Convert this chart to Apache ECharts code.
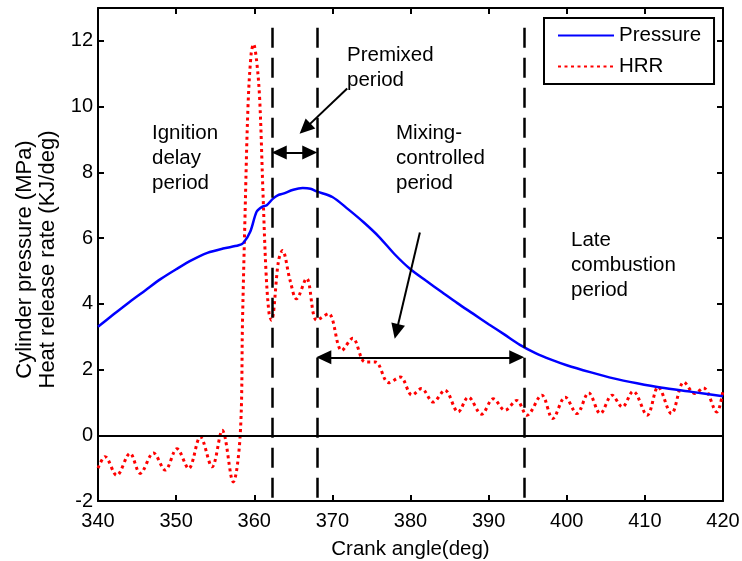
<!DOCTYPE html>
<html>
<head>
<meta charset="utf-8">
<script src="https://cdn.jsdelivr.net/npm/echarts@6/dist/echarts.min.js"></script>
<style>
  html, body { margin: 0; padding: 0; background: #fff; }
  #chart { width: 742px; height: 561px; }
</style>
</head>
<body>
<div id="chart"></div>
<script>
// crank angle axis and value axis
const xMin = 340, xMax = 420, xStep = 10;
const yMin = -2, yMax = 13, yStep = 2;

// cylinder pressure (MPa)
const pressAngle = [340, 342, 344, 346, 348, 350, 352, 354, 356, 358, 358.6, 359.5, 360.3, 361, 361.6, 362.4, 363, 363.7, 365, 366.2, 367.2, 368, 370, 372, 374, 376, 378, 380, 382, 384, 386, 388, 390, 392, 394, 396, 398, 400, 403, 406, 409, 412, 416, 420];
const pressure = [3.3, 3.68, 4.05, 4.4, 4.75, 5.05, 5.33, 5.55, 5.68, 5.78, 5.85, 6.2, 6.8, 6.95, 7.0, 7.2, 7.3, 7.35, 7.47, 7.52, 7.5, 7.42, 7.25, 6.88, 6.48, 6.03, 5.5, 5.05, 4.7, 4.36, 4.02, 3.7, 3.38, 3.07, 2.75, 2.5, 2.3, 2.13, 1.92, 1.73, 1.58, 1.45, 1.32, 1.19];

// heat release rate (KJ/deg)
const hrrAngle = [340, 340.9, 342.4, 344.1, 345.4, 347.1, 348.6, 350.1, 351.6, 353.1, 354.6, 355.9, 357.3, 358.2, 358.5, 358.8, 359.2, 359.6, 359.9, 360.3, 360.7, 361.1, 361.5, 361.9, 362.2, 363.1, 363.6, 364.6, 365.4, 366.7, 368, 369.5, 371.2, 372.6, 374.2, 375.5, 377.2, 378.7, 380.2, 381.4, 382.9, 384.4, 386.1, 387.4, 389.1, 390.6, 392.1, 393.6, 394.9, 396.8, 398.2, 399.8, 401.3, 402.8, 404.3, 405.8, 407.1, 408.5, 410.3, 411.7, 413.4, 415, 416.4, 417.5, 419.2, 420];
const hrr = [-1.0, -0.65, -1.22, -0.55, -1.16, -0.54, -1.06, -0.41, -1.01, -0.05, -0.96, 0.15, -1.42, 0.0, 3.5, 6.5, 10.0, 11.6, 11.9, 11.4, 10.2, 7.5, 5.0, 3.7, 3.5, 5.3, 5.62, 4.7, 4.15, 4.77, 3.5, 3.7, 2.58, 2.95, 2.23, 2.23, 1.6, 1.77, 1.22, 1.42, 1.01, 1.37, 0.71, 1.16, 0.64, 1.11, 0.76, 1.06, 0.61, 1.22, 0.51, 1.16, 0.66, 1.29, 0.66, 1.22, 0.86, 1.34, 0.61, 1.47, 0.66, 1.62, 1.27, 1.44, 0.71, 1.37];

// combustion phase boundaries (deg)
const phaseBounds = [362.3, 368.0, 394.5];

const font = 'Liberation Sans, Arial, sans-serif';

const chart = echarts.init(document.getElementById('chart'));

function pairs(xs, ys) {
  return xs.map((x, i) => [x, ys[i]]);
}

const dashStyle = { type: [20, 10], width: 2.5, color: '#000' };
let boundLines = phaseBounds.map((b) => [{ coord: [b, 12.4], lineStyle: dashStyle }, { coord: [b, yMin] }]);

// arrow head (triangle is centred on the end point, so ends are pulled in a bit)
const head = { symbol: 'triangle', symbolSize: [14, 15] };
const pull = 0.9;

let option = {
  animation: false,
  backgroundColor: '#fff',
  grid: { left: 98, right: 19, top: 8, bottom: 60, outerBoundsMode: 'none' },
  legend: {
    data: ['Pressure', 'HRR'],
    orient: 'vertical',
    left: 544,
    top: 18,
    padding: [7, 13, 7, 13],
    itemWidth: 56,
    itemHeight: 20,
    itemGap: 10,
    borderColor: '#000',
    borderWidth: 2,
    backgroundColor: '#fff',
    itemStyle: { opacity: 0 },
    textStyle: { fontSize: 20.5, color: '#000', fontFamily: font },
  },
  xAxis: [
    {
      type: 'value',
      min: xMin,
      max: xMax,
      interval: xStep,
      name: 'Crank angle(deg)',
      nameLocation: 'middle',
      nameGap: 38,
      nameTextStyle: { fontSize: 20.5, color: '#000', fontFamily: font },
      axisLine: { onZero: false, lineStyle: { color: '#000', width: 2 } },
      axisTick: { inside: true, length: 6, lineStyle: { color: '#000', width: 2 } },
      axisLabel: { fontSize: 20, color: '#000', margin: 10, fontFamily: font },
      splitLine: { show: false },
    },
    {
      type: 'value',
      position: 'top',
      min: xMin,
      max: xMax,
      interval: xStep,
      axisLine: { onZero: false, lineStyle: { color: '#000', width: 2 } },
      axisTick: { inside: true, length: 6, lineStyle: { color: '#000', width: 2 } },
      axisLabel: { show: false },
      splitLine: { show: false },
    },
  ],
  yAxis: [
    {
      type: 'value',
      min: yMin,
      max: yMax,
      interval: yStep,
      name: 'Cylinder pressure (MPa)\nHeat release rate (KJ/deg)',
      nameLocation: 'middle',
      nameRotate: 90,
      nameGap: 39,
      nameTextStyle: { fontSize: 22, lineHeight: 23, color: '#000', fontFamily: font, padding: [0, 10, 0, 0] },
      axisLine: { onZero: false, lineStyle: { color: '#000', width: 2 } },
      axisTick: { inside: true, length: 6, lineStyle: { color: '#000', width: 2 } },
      axisLabel: { fontSize: 20, color: '#000', margin: 5, showMaxLabel: false, fontFamily: font },
      splitLine: { show: false },
    },
    {
      type: 'value',
      position: 'right',
      min: yMin,
      max: yMax,
      interval: yStep,
      axisLine: { onZero: false, lineStyle: { color: '#000', width: 2 } },
      axisTick: { inside: true, length: 6, lineStyle: { color: '#000', width: 2 } },
      axisLabel: { show: false },
      splitLine: { show: false },
    },
  ],
  series: [
    {
      name: 'Pressure',
      type: 'line',
      data: pairs(pressAngle, pressure),
      symbol: 'none',
      smooth: 0.3,
      color: '#0000ff',
      lineStyle: { color: '#0000ff', width: 2.5 },
      z: 3,
    },
    {
      name: 'HRR',
      type: 'line',
      data: pairs(hrrAngle, hrr),
      symbol: 'none',
      smooth: 0.35,
      color: '#ff0000',
      lineStyle: { color: '#ff0000', width: 3, type: [3, 3.5] },
      z: 2,
    },
    {
      // reference lines and arrows
      name: 'annot',
      type: 'line',
      data: [],
      clip: false,
      z: 4,
      markLine: {
        silent: true,
        animation: false,
        label: { show: false },
        symbol: ['none', 'none'],
        lineStyle: { color: '#000', width: 2, type: 'solid' },
        data: [
          [{ coord: [xMin, 0] }, { coord: [xMax, 0] }],
          ...boundLines,
          [
            Object.assign({ coord: [phaseBounds[0] + pull, 8.6] }, head),
            Object.assign({ coord: [phaseBounds[1] - pull, 8.6] }, head),
          ],
          [
            Object.assign({ coord: [phaseBounds[1] + pull, 2.37] }, head),
            Object.assign({ coord: [phaseBounds[2] - pull, 2.37] }, head),
          ],
          [{ coord: [371.9, 10.55] }, Object.assign({ coord: [366.5, 9.33] }, head)],
          [{ coord: [381.2, 6.17] }, Object.assign({ coord: [378.2, 3.16] }, head)],
        ],
      },
    },
  ],
  graphic: [
    { type: 'text', left: 152, top: 121, style: { text: 'Ignition\ndelay\nperiod', font: '20.5px ' + font, lineHeight: 25, fill: '#000' } },
    { type: 'text', left: 347, top: 43, style: { text: 'Premixed\nperiod', font: '20.5px ' + font, lineHeight: 25, fill: '#000' } },
    { type: 'text', left: 396, top: 121, style: { text: 'Mixing-\ncontrolled\nperiod', font: '20.5px ' + font, lineHeight: 25, fill: '#000' } },
    { type: 'text', left: 571, top: 228, style: { text: 'Late\ncombustion\nperiod', font: '20.5px ' + font, lineHeight: 25, fill: '#000' } },
  ],
};

chart.setOption(option);
</script>
</body>
</html>
